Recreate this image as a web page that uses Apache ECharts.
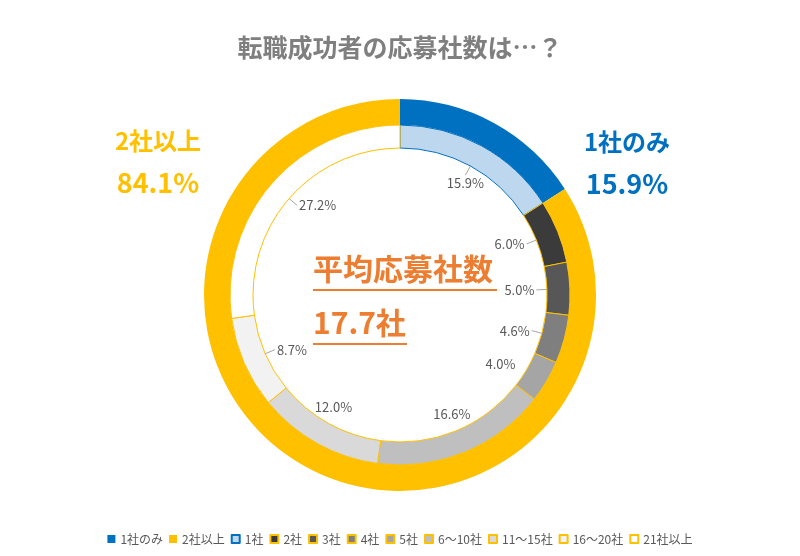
<!DOCTYPE html>
<html>
<head>
<meta charset="utf-8">
<script src="https://cdn.jsdelivr.net/npm/echarts@6/dist/echarts.min.js"></script>
<style>
  html, body { margin: 0; padding: 0; background: #fff; }
  #main { width: 800px; height: 556px; }
</style>
</head>
<body>
<div id="main"></div>
<script>
// 外側：1社のみ / 2社以上
var outerNames = ['1社のみ', '2社以上'];
var outerValues = [15.9, 84.1];
// 内側：応募社数の内訳
var innerNames = ['1社', '2社', '3社', '4社', '5社', '6〜10社', '11〜15社', '16〜20社', '21社以上'];
var innerValues = [15.9, 6.0, 5.0, 4.6, 4.0, 16.6, 12.0, 8.7, 27.2];
// 引き出し線を付ける項目
var leaderCats = ['1社', '2社', '3社', '4社', '16〜20社', '21社以上'];
var avgLabel = '平均応募社数';
var avgValue = '17.7社';

var outerColors = ['#0070C0', '#FFC000'];
var innerColors = ['#BDD7EE', '#3B3B3B', '#575757', '#7F7F7F', '#A5A5A5', '#BFBFBF', '#D9D9D9', '#F2F2F2', '#FFFFFF'];

var CX = 400, CY = 295;
var R_MID = 158.5; // 内側リングの中央（引き出し線の始点）
var FONT = '"Noto Sans CJK JP", "Noto Sans", sans-serif';

var myChart = echarts.init(document.getElementById('main'));

var outerData = outerNames.map(function (n, i) {
  return { name: n, value: outerValues[i], itemStyle: { color: outerColors[i] }, label: { color: outerColors[i] } };
});
var innerData = innerNames.map(function (n, i) {
  return {
    name: n,
    value: innerValues[i],
    itemStyle: { color: innerColors[i], borderColor: i === 0 ? '#0070C0' : '#FFC000' }
  };
});
// ラベル専用（透明）
var labelData = innerNames.map(function (n, i) {
  return {
    name: n,
    value: innerValues[i],
    labelLine: { lineStyle: { opacity: leaderCats.indexOf(n) >= 0 ? 1 : 0 } }
  };
});

myChart.setOption({
  animation: false,
  backgroundColor: '#fff',
  textStyle: { fontFamily: FONT },
  title: {
    text: '転職成功者の応募社数は…？',
    left: 'center',
    top: 30,
    textStyle: { color: '#7F7F7F', fontSize: 25, fontWeight: 'bold', fontFamily: FONT }
  },
  legend: {
    bottom: 6,
    left: 'center',
    itemWidth: 8,
    itemHeight: 8,
    itemGap: 6,
    icon: 'rect',
    data: outerNames.concat(innerNames),
    textStyle: { color: '#595959', fontSize: 12, fontFamily: FONT }
  },
  graphic: [
    {
      type: 'group',
      left: 313,
      top: 254,
      children: [
        { type: 'text', left: 0, top: 0, style: { text: avgLabel, fill: '#ED7D31', font: 'bold 30px ' + FONT } },
        { type: 'rect', left: 0, top: 35, shape: { width: 184, height: 2 }, style: { fill: '#ED7D31' } }
      ]
    },
    {
      type: 'group',
      left: 313,
      top: 308,
      children: [
        { type: 'text', left: 0, top: 0, style: { text: avgValue, fill: '#ED7D31', font: 'bold 30px ' + FONT } },
        { type: 'rect', left: 0, top: 35, shape: { width: 94, height: 2 }, style: { fill: '#ED7D31' } }
      ]
    }
  ],
  series: [
    {
      name: '外側',
      type: 'pie',
      center: [CX, CY],
      radius: [170, 196],
      silent: true,
      avoidLabelOverlap: false,
      itemStyle: { borderWidth: 0 },
      label: {
        show: true,
        position: 'outside',
        formatter: function (p) {
          return '{n|' + p.name + '}\n{v|' + p.value.toFixed(1) + '%}';
        },
        rich: {
          n: { fontSize: 24, fontWeight: 'bold', lineHeight: 42, fontFamily: FONT },
          v: { fontSize: 27, fontWeight: 'bold', lineHeight: 42, fontFamily: FONT }
        }
      },
      labelLine: { show: false },
      labelLayout: function (p) {
        if (p.dataIndex === 0) return { x: 627, y: 163, align: 'center', verticalAlign: 'middle' };
        return { x: 158, y: 162, align: 'center', verticalAlign: 'middle' };
      },
      data: outerData
    },
    {
      name: '内側',
      type: 'pie',
      center: [CX, CY],
      radius: [147, 170],
      silent: true,
      itemStyle: { borderWidth: 1 },
      label: { show: false },
      labelLine: { show: false },
      data: innerData
    },
    {
      // 内側リングのデータラベル（引き出し線は内向き）
      name: '内側ラベル',
      type: 'pie',
      center: [CX, CY],
      radius: [0, R_MID],
      silent: true,
      avoidLabelOverlap: false,
      itemStyle: { color: 'rgba(0,0,0,0)', borderWidth: 0 },
      label: {
        show: true,
        position: 'outside',
        color: '#595959',
        fontSize: 13,
        fontFamily: FONT,
        formatter: function (p) { return p.value.toFixed(1) + '%'; }
      },
      labelLine: { show: true, length: -22, length2: 0, smooth: false, lineStyle: { color: '#A6A6A6', width: 1 } },
      labelLayout: function (p) {
        // 線の終点にラベルの近い辺を合わせる
        var pts = p.labelLinePoints;
        var r = p.labelRect;
        if (!pts) return {};
        var ux = (pts[0][0] - CX) / R_MID, uy = (pts[0][1] - CY) / R_MID;
        var hw = r.width / 2 + 2, hh = r.height / 2 + 1;
        var tx = pts[1][0], ty = pts[1][1];
        if (Math.abs(ux) > 0.6) {
          tx -= (ux > 0 ? 1 : -1) * hw;
        } else {
          ty -= (uy > 0 ? 1 : -1) * hh;
        }
        return { dx: tx - (r.x + r.width / 2), dy: ty - (r.y + r.height / 2) };
      },
      data: labelData
    }
  ]
});
</script>
</body>
</html>
